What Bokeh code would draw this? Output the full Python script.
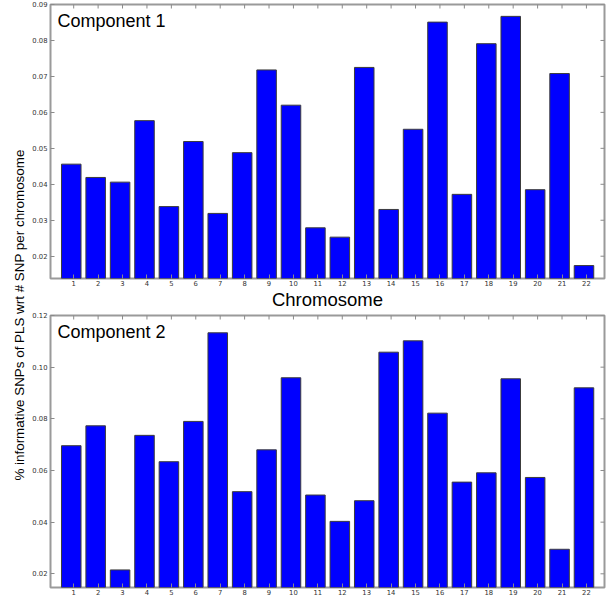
import math
from bokeh.plotting import figure
from bokeh.models import Range1d, FixedTicker, Label, ColumnDataSource, NumeralTickFormatter
from bokeh.layouts import row, column
from bokeh.embed import file_html
from bokeh.resources import INLINE

chromosomes = list(range(1, 23))
component1 = [0.0456, 0.0419, 0.0406, 0.0577, 0.0338, 0.0519, 0.0319, 0.0488, 0.0718, 0.0620, 0.0279,
              0.0253, 0.0725, 0.0330, 0.0553, 0.0851, 0.0372, 0.0791, 0.0867, 0.0385, 0.0708, 0.0174]
component2 = [0.0696, 0.0773, 0.0215, 0.0736, 0.0634, 0.0790, 0.1133, 0.0518, 0.0680, 0.0959, 0.0505,
              0.0403, 0.0483, 0.1058, 0.1102, 0.0822, 0.0555, 0.0591, 0.0955, 0.0573, 0.0295, 0.0920]
y1_ticks = [0.02, 0.03, 0.04, 0.05, 0.06, 0.07, 0.08, 0.09]
y2_ticks = [0.02, 0.04, 0.06, 0.08, 0.10, 0.12]
titles = ["Component 1", "Component 2"]
x_label = "Chromosome"
y_label = "% informative SNPs of PLS wrt # SNP per chromosome"

TICK_FONT = "DejaVu Sans"
TEXT_FONT = "Liberation Sans"
TICK_COLOR = "#8a8a8a"
X_START, X_END = 0.05, 22.74


def style_axis(ax):
    ax.axis_line_color = None
    ax.major_tick_in = 4
    ax.major_tick_out = 0
    ax.major_tick_line_color = TICK_COLOR
    ax.major_tick_line_width = 1
    ax.minor_tick_line_color = None
    ax.major_label_text_font = TICK_FONT
    ax.major_label_text_color = "#333333"
    ax.major_label_text_font_size = "6.8px"
    ax.major_label_standoff = 3


def make_panel(values, yticks, ystart, yend, title, xlabel, frame_h, border_top, border_bottom):
    p = figure(frame_width=554, frame_height=frame_h,
               x_range=Range1d(X_START, X_END), y_range=Range1d(ystart, yend),
               output_backend="svg", toolbar_location=None,
               min_border_left=22, min_border_right=2,
               min_border_top=border_top, min_border_bottom=border_bottom)
    src = ColumnDataSource(dict(x=[c - 0.1 for c in chromosomes], top=values))
    p.vbar(x="x", top="top", bottom=0, width=0.8, source=src,
           fill_color="#0000ff", line_color="#3c3c3c", line_width=1)
    p.grid.visible = False
    p.outline_line_color = "#9a9a9a"
    p.outline_line_width = 2

    xa = p.below[0]
    ya = p.left[0]
    xa.ticker = FixedTicker(ticks=chromosomes)
    ya.ticker = FixedTicker(ticks=yticks)
    ya.formatter = NumeralTickFormatter(format="0.00")
    style_axis(xa)
    style_axis(ya)
    xa.major_label_standoff = 2
    if xlabel:
        xa.axis_label = xlabel
        xa.axis_label_text_font = TEXT_FONT
        xa.axis_label_text_font_size = "18.5px"
        xa.axis_label_text_font_style = "normal"
        xa.axis_label_text_color = "#000000"
        xa.axis_label_standoff = 0

    # inward tick marks on the top and right edges of the frame
    p.scatter(x=chromosomes, y=[yend] * len(chromosomes), marker="dash", angle=math.pi / 2,
              size=8, line_color=TICK_COLOR, line_width=1)
    p.scatter(x=[X_END] * len(yticks), y=yticks, marker="dash",
              size=8, line_color=TICK_COLOR, line_width=1)

    p.add_layout(Label(x=X_START, y=yend, x_offset=7, y_offset=-6, text=title,
                       text_font=TEXT_FONT, text_font_size="18px",
                       text_baseline="top", text_align="left", text_color="#000000"))
    return p


top = make_panel(component1, y1_ticks, 0.0138, 0.09, titles[0], x_label, 274, 4, 34)
bottom = make_panel(component2, y2_ticks, 0.0147, 0.12, titles[1], None, 272, 3, 11)

LAB_H = 598
lab = figure(width=28, height=LAB_H, x_range=Range1d(0, 28), y_range=Range1d(0, LAB_H),
             output_backend="svg", toolbar_location=None, min_border=0)
lab.axis.visible = False
lab.grid.visible = False
lab.outline_line_color = None
lab.add_layout(Label(x=19, y=LAB_H - 314.5, text=y_label, angle=90, angle_units="deg",
                     text_font=TEXT_FONT, text_font_size="13.4px",
                     text_align="center", text_baseline="middle", text_color="#000000"))

layout = row(lab, column(top, bottom, spacing=0), spacing=0)
open("out.html", "w").write(file_html(layout, INLINE))
